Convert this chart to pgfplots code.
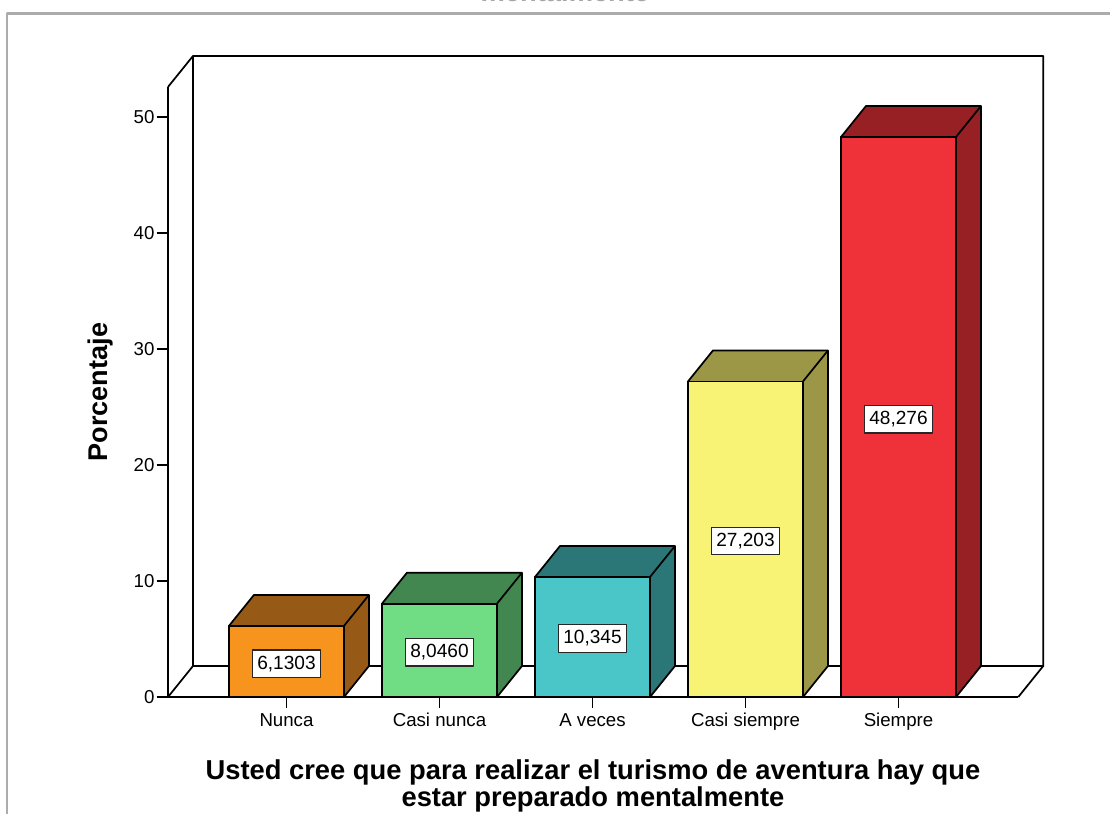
\documentclass[border=0pt]{standalone}
\usepackage{pgfplots}
\pgfplotsset{compat=1.18}
\usepackage{fontspec}
\setmainfont{Liberation Sans}
\definecolor{c1f}{HTML}{F7941D}\definecolor{c1d}{HTML}{975A16}
\definecolor{c2f}{HTML}{70DC84}\definecolor{c2d}{HTML}{41874F}
\definecolor{c3f}{HTML}{4AC5C8}\definecolor{c3d}{HTML}{2B7677}
\definecolor{c4f}{HTML}{F8F374}\definecolor{c4d}{HTML}{9B9746}
\definecolor{c5f}{HTML}{EF323A}\definecolor{c5d}{HTML}{962024}
\begin{document}
\begin{tikzpicture}[line join=round]
\begin{axis}[
  x=114.75pt, y=8.7pt,
  xmin=0.2255, xmax=5.783, ymin=0, ymax=52.59,
  clip=false,
  axis x line=bottom, axis y line=left,
  axis line style={-, line width=1.3pt, black},
  ytick={0,10,20,30,40,50},
  xtick={1,2,3,4,5},
  xticklabels={Nunca,Casi nunca,A veces,Casi siempre,Siempre},
  tick align=outside, major tick length=8.5pt,
  tick style={line width=1.1pt, black},
  every tick label/.append style={font=\fontsize{14}{16}\selectfont, inner sep=1.5pt},
  xticklabel style={yshift=-2pt},
  /pgf/number format/assume math mode=true,
  title={mentalmente},
  every axis title/.style={at={(axis cs:2.82,59.95)}, anchor=base, font=\bfseries\fontsize{20.5}{22}\selectfont, text=gray!70},
  ylabel={Porcentaje},
  every axis y label/.style={at={(axis cs:-0.2124,26.29)}, rotate=90, anchor=center, font=\bfseries\fontsize{20.3}{22}\selectfont},
  xlabel={Usted cree que para realizar el turismo de aventura hay que\\estar preparado mentalmente},
  every axis x label/.style={at={(axis cs:3.003,-5.0)}, anchor=north, align=center, font=\bfseries\fontsize{20.5}{18.75}\selectfont},
]
% frame of the output window
\draw[gray!65, line width=1.6pt] (axis cs:-0.8268,-10.3) -- (axis cs:-0.8268,58.92) -- (axis cs:6.5,58.92);
% 3D back wall and floor
\draw[line width=1.3pt] (axis cs:0.2255,52.59) -- (axis cs:0.389,55.26) -- (axis cs:5.946,55.26) -- (axis cs:5.946,2.672) -- (axis cs:5.783,0);
\draw[line width=1.3pt] (axis cs:0.389,55.26) -- (axis cs:0.389,2.672) -- (axis cs:5.946,2.672);
\draw[line width=1.3pt] (axis cs:0.2255,0) -- (axis cs:0.389,2.672);
% side and top faces
\addplot[fill=c1d, draw=black, line width=1.3pt] coordinates {(0.6242,0) (1.3758,0) (1.5392,2.672) (1.5392,8.8023) (0.7876,8.8023) (0.6242,6.1303)} --cycle;
\addplot[fill=c2d, draw=black, line width=1.3pt] coordinates {(1.6242,0) (2.3758,0) (2.5392,2.672) (2.5392,10.718) (1.7876,10.718) (1.6242,8.0460)} --cycle;
\addplot[fill=c3d, draw=black, line width=1.3pt] coordinates {(2.6242,0) (3.3758,0) (3.5392,2.672) (3.5392,13.017) (2.7876,13.017) (2.6242,10.345)} --cycle;
\addplot[fill=c4d, draw=black, line width=1.3pt] coordinates {(3.6242,0) (4.3758,0) (4.5392,2.672) (4.5392,29.875) (3.7876,29.875) (3.6242,27.203)} --cycle;
\addplot[fill=c5d, draw=black, line width=1.3pt] coordinates {(4.6242,0) (5.3758,0) (5.5392,2.672) (5.5392,50.948) (4.7876,50.948) (4.6242,48.276)} --cycle;
% front faces
\addplot[ybar, bar width=86.25pt, bar shift=0pt, fill=c1f, draw=black, line width=1.3pt] coordinates {(1,6.1303)};
\addplot[ybar, bar width=86.25pt, bar shift=0pt, fill=c2f, draw=black, line width=1.3pt] coordinates {(2,8.0460)};
\addplot[ybar, bar width=86.25pt, bar shift=0pt, fill=c3f, draw=black, line width=1.3pt] coordinates {(3,10.345)};
\addplot[ybar, bar width=86.25pt, bar shift=0pt, fill=c4f, draw=black, line width=1.3pt] coordinates {(4,27.203)};
\addplot[ybar, bar width=86.25pt, bar shift=0pt, fill=c5f, draw=black, line width=1.3pt] coordinates {(5,48.276)};
% edges between top and side
\addplot[black, line width=1.3pt] coordinates {(1.3758,6.1303) (1.5392,8.8023)};
\addplot[black, line width=1.3pt] coordinates {(2.3758,8.0460) (2.5392,10.718)};
\addplot[black, line width=1.3pt] coordinates {(3.3758,10.345) (3.5392,13.017)};
\addplot[black, line width=1.3pt] coordinates {(4.3758,27.203) (4.5392,29.875)};
\addplot[black, line width=1.3pt] coordinates {(5.3758,48.276) (5.5392,50.948)};
% value labels
\addplot[draw=none, mark=none, nodes near coords, point meta=explicit symbolic,
  every node near coord/.append style={anchor=center, fill=white, draw=black!85, line width=1pt,
    inner xsep=3.6pt, inner ysep=3.8pt, text height=10.5pt, text depth=2.6pt,
    font=\fontsize{14.3}{16}\selectfont}]
  coordinates {(1,2.85)[6,1303] (2,3.85)[8,0460] (3,5.05)[10,345] (4,13.45)[27,203] (5,23.95)[48,276]};
\coordinate (bl) at (axis cs:-0.8725,-10.086);
\coordinate (tr) at (axis cs:6.3824,60.086);
\end{axis}
\pgfresetboundingbox
\useasboundingbox (bl) rectangle (tr);
\end{tikzpicture}
\end{document}
